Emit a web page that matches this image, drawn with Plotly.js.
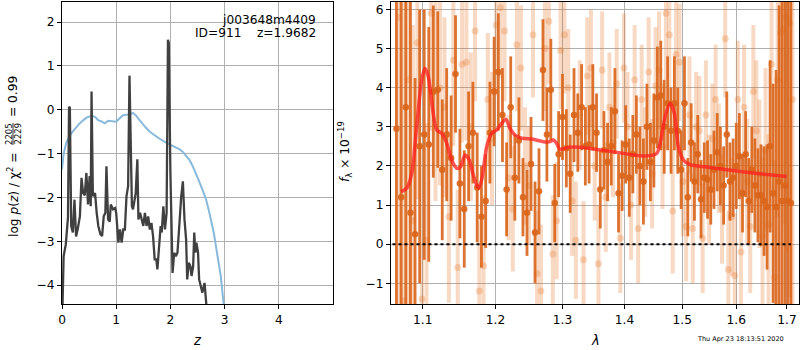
<!DOCTYPE html>
<html>
<head>
<meta charset="utf-8">
<script src="https://cdn.plot.ly/plotly-3.0.1.min.js"></script>
<style>html,body{margin:0;padding:0;background:#fff;}#chart{width:800px;height:350px;}</style>
</head>
<body>
<div id="chart"></div>
<script>
// ---- Left panel: log p(z) ----
const zPdf = [0, 0.03, 0.07, 0.11, 0.13, 0.145, 0.17, 0.20, 0.23, 0.26, 0.29, 0.33, 0.36, 0.39, 0.42, 0.45, 0.48, 0.51, 0.53, 0.545, 0.57, 0.61, 0.64, 0.67, 0.71, 0.74, 0.77, 0.80, 0.82, 0.85, 0.88, 0.90, 0.94, 0.98, 1.00, 1.02, 1.04, 1.07, 1.10, 1.13, 1.16, 1.19, 1.22, 1.245, 1.27, 1.29, 1.31, 1.34, 1.36, 1.39, 1.41, 1.44, 1.47, 1.50, 1.53, 1.56, 1.59, 1.62, 1.65, 1.68, 1.71, 1.74, 1.76, 1.79, 1.82, 1.84, 1.87, 1.90, 1.93, 1.955, 1.97, 2.00, 2.02, 2.04, 2.07, 2.10, 2.13, 2.15, 2.18, 2.20, 2.23, 2.26, 2.29, 2.31, 2.34, 2.37, 2.39, 2.42, 2.44, 2.46, 2.48, 2.51, 2.53, 2.56, 2.59, 2.63, 2.66, 2.70];
const logPdf = [-5.0, -3.34, -3.07, -2.46, 0.07, 0.05, -2.65, -2.8, -2.05, -2.89, -2.72, -2.43, -1.55, -1.9, -1.95, -1.44, -2.16, -1.51, -2.2, 0.42, -1.97, -1.9, -2.35, -2.65, -2.84, -2.88, -2.43, -2.35, -1.29, -2.5, -2.55, -2.16, -2.27, -2.24, -2.35, -2.73, -3.03, -2.73, -3.03, -2.73, -2.73, -1.97, -1.74, 0.78, -1.5, -2.2, -2.27, -2.05, -1.9, -1.13, -2.5, -2.35, -2.5, -2.65, -2.35, -2.65, -2.43, -2.73, -2.58, -2.88, -3.41, -3.41, -3.64, -3.19, -2.65, -2.8, -2.2, -2.73, -2.35, 1.6, 1.53, -1.44, -2.96, -3.72, -3.26, -3.34, -3.26, -2.8, -2.35, -1.97, -1.63, -2.5, -2.96, -3.87, -3.49, -3.57, -3.79, -3.57, -2.8, -3.26, -3.03, -3.26, -3.87, -4.02, -4.17, -3.95, -4.5, -5.0];
const zChi = [0, 0.03, 0.08, 0.14, 0.20, 0.26, 0.325, 0.39, 0.45, 0.51, 0.57, 0.62, 0.66, 0.72, 0.79, 0.85, 0.92, 1.00, 1.06, 1.12, 1.18, 1.24, 1.31, 1.36, 1.42, 1.48, 1.55, 1.62, 1.70, 1.80, 1.92, 2.05, 2.17, 2.23, 2.29, 2.35, 2.41, 2.47, 2.53, 2.60, 2.66, 2.71, 2.75, 2.80, 2.84, 2.89, 2.93, 2.98, 3.03];
const logChi = [-1.36, -1.0, -0.75, -0.6, -0.49, -0.39, -0.31, -0.24, -0.18, -0.15, -0.14, -0.17, -0.23, -0.26, -0.31, -0.25, -0.26, -0.27, -0.2, -0.13, -0.11, -0.11, -0.07, -0.12, -0.22, -0.32, -0.41, -0.5, -0.58, -0.66, -0.75, -0.83, -0.9, -0.96, -1.04, -1.14, -1.28, -1.44, -1.63, -1.85, -2.05, -2.3, -2.5, -2.8, -3.11, -3.45, -3.8, -4.4, -5.0];
const zTicks = [0, 1, 2, 3, 4];
const logTicks = [-4, -3, -2, -1, 0, 1, 2];

// ---- Right panel: spectrum ----
const lamDark = [1.066,1.072,1.078,1.084,1.090,1.096,1.102,1.108,1.114,1.120,1.126,1.132,1.138,1.144,1.150,1.156,1.162,1.168,1.174,1.180,1.186,1.192,1.198,1.204,1.210,1.216,1.222,1.228,1.234,1.240,1.246,1.252,1.258,1.264,1.270,1.276,1.282,1.288,1.294,1.300,1.306,1.312,1.318,1.324,1.330,1.336,1.342,1.348,1.354,1.360,1.366,1.372,1.378,1.384,1.390,1.396,1.402,1.408,1.414,1.420,1.426,1.432,1.438,1.444,1.450,1.456,1.462,1.468,1.474,1.480,1.486,1.492,1.498,1.504,1.510,1.516,1.522,1.528,1.534,1.540,1.546,1.552,1.558,1.564,1.570,1.576,1.582,1.588,1.594,1.600,1.606,1.612,1.618,1.624,1.630,1.636,1.642,1.648,1.654,1.660,1.666,1.672,1.678,1.684,1.690,1.696,1.702,1.708];
const fluxDark = [2.95,1.2,3.5,0.8,0.25,2.5,2.8,2.55,3.9,3.95,1.9,2.8,2.2,4.35,1.55,0.9,2.5,2.85,1.45,0.7,1.1,2.85,3.9,4.4,3.3,1.4,3.5,1.7,2.65,1.2,0.8,2.05,0.3,1.35,4.45,2.8,3.95,1.05,2.3,3.25,2.45,1.8,3.3,2.85,3.5,2.5,2.55,3.5,2.85,1.4,2.4,2.1,2.5,3.4,1.3,1.75,2.55,1.7,2.3,2.8,2.0,1.6,3.0,2.1,2.65,3.75,3.8,3.0,3.6,2.9,3.6,2.9,1.9,3.6,1.2,2.6,1.6,2.3,1.15,1.7,1.65,1.4,1.9,2.35,2.0,1.5,2.8,1.6,1.7,2.0,2.25,1.3,2.3,1.1,1.9,1.5,1.25,1.25,1.1,0.95,2.5,1.3,0.95,1.6,1.1,1.5,1.1,1.05];
const errDark = [9,8,7,6,4,3.5,3.2,3,2.2,2,1.8,1.7,1.6,1.5,1.4,1.5,1.4,1.3,1.4,1.3,1.2,1.3,1.4,1.5,1.2,1.2,1.3,1.1,1.1,1.0,1.1,1.2,1.3,1.1,1.3,1.2,1.3,1.0,1.1,1.1,1.0,1.0,1.2,1.0,1.1,1.0,1.0,1.1,1.0,1.0,1.0,1.0,1.0,1.1,1.0,0.9,1.0,1.0,1.0,1.0,1.0,1.1,1.1,1.0,1.2,1.3,1.4,1.2,1.2,1.1,1.2,1.1,1.0,1.2,1.0,1.0,1.0,1.0,1.0,0.9,1.0,0.9,1.0,1.0,1.0,1.0,1.1,1.0,1.0,1.1,1.1,1.0,1.1,1.1,1.1,1.2,1.2,1.3,1.4,1.6,2.2,2.8,3.5,4.5,6,7,8,9];
const lamLight = [1.069,1.075,1.081,1.087,1.093,1.099,1.105,1.111,1.117,1.123,1.129,1.135,1.141,1.147,1.153,1.159,1.165,1.171,1.177,1.183,1.189,1.195,1.201,1.207,1.213,1.219,1.225,1.231,1.237,1.243,1.249,1.255,1.261,1.267,1.273,1.279,1.285,1.291,1.297,1.303,1.309,1.315,1.321,1.327,1.333,1.339,1.345,1.351,1.357,1.363,1.369,1.375,1.381,1.387,1.393,1.399,1.405,1.411,1.417,1.423,1.429,1.435,1.441,1.447,1.453,1.459,1.465,1.471,1.477,1.483,1.489,1.495,1.501,1.507,1.513,1.519,1.525,1.531,1.537,1.543,1.549,1.555,1.561,1.567,1.573,1.579,1.585,1.591,1.597,1.603,1.609,1.615,1.621,1.627,1.633,1.639,1.645,1.651,1.657,1.663,1.669,1.675,1.681,1.687,1.693,1.699,1.705,1.711];
const fluxLight = [5.8,-1.45,4.2,0.6,5.15,-1.4,0.1,5.9,3.9,4.0,3.5,0.7,4.7,-0.6,4.6,4.65,3.0,5.45,-1.2,-0.55,3.7,2.7,5.6,6.05,5.45,1.7,0.9,5.1,4.5,2.0,1.5,5.35,-0.75,-1.2,5.0,5.7,-0.25,0.6,4.95,5.35,4.0,1.1,0.1,3.3,-0.4,4.3,4.5,2.0,-0.5,4.45,1.2,3.5,2.6,4.1,0.15,4.5,3.0,1.0,4.2,0.4,3.7,2.1,4.4,1.8,4.05,4.45,2.5,5.9,5.35,0.85,4.85,4.65,1.6,0.45,3.3,0.4,3.0,2.9,0.15,3.3,1.4,2.7,3.7,2.2,0.9,5.25,-0.65,0.7,-0.8,3.7,-0.2,3.5,1.6,0.45,3.9,2.9,1.8,0.2,2.4,0.5,4.6,-0.85,4.2,5.4,5.5,5.8,5.65,3.7];
const errLight = [9,8,6,5,4,4,3,3,2.8,2.5,2.3,2.2,2.2,2.0,2.0,2.0,1.9,1.8,1.8,1.8,1.7,1.7,1.8,1.8,1.8,1.6,1.6,1.7,1.6,1.5,1.5,1.6,1.6,1.7,1.6,1.6,1.5,1.5,1.5,1.5,1.5,1.4,1.5,1.4,1.5,1.5,1.5,1.4,1.5,1.5,1.4,1.4,1.4,1.4,1.4,1.4,1.4,1.4,1.4,1.4,1.4,1.4,1.4,1.4,1.5,1.5,1.6,1.7,1.7,1.6,1.6,1.5,1.4,1.4,1.5,1.4,1.4,1.4,1.4,1.4,1.4,1.4,1.4,1.4,1.4,1.5,1.5,1.5,1.6,1.5,1.6,1.6,1.6,1.7,1.7,1.8,1.9,2.0,2.1,2.3,2.6,3,3.5,4,5,6,7,8];
const lamModel = [1.0719,1.0792,1.0857,1.0921,1.0987,1.1030,1.1074,1.1133,1.1186,1.1253,1.1320,1.1388,1.1456,1.1511,1.1570,1.1630,1.1685,1.1755,1.1803,1.1874,1.1945,1.2017,1.2089,1.2151,1.2209,1.2282,1.2381,1.2554,1.2706,1.2807,1.2857,1.2908,1.2959,1.3115,1.3273,1.3597,1.3981,1.4262,1.4464,1.4551,1.4621,1.4696,1.4784,1.4860,1.4931,1.5021,1.5142,1.5447,1.5941,1.6460,1.6994];
const fluxModel = [1.34,1.43,1.81,3.0,4.2,4.49,4.28,3.43,2.92,2.83,2.58,2.15,1.94,1.98,2.28,2.15,1.77,1.43,1.64,2.49,2.83,2.92,3.09,3.19,2.96,2.79,2.71,2.68,2.62,2.62,2.66,2.58,2.43,2.48,2.48,2.41,2.32,2.26,2.27,2.32,2.66,3.26,3.6,3.34,2.49,2.15,2.03,1.97,1.88,1.80,1.73];
const lamTicks = [1.1, 1.2, 1.3, 1.4, 1.5, 1.6, 1.7];
const fluxTicks = [-1, 0, 1, 2, 3, 4, 5, 6];

const W = 800, H = 350;
const px = v => v / W, py = v => 1 - v / H;
const FONT = 'DejaVu Sans, sans-serif';
const FS = 12.2;
const ORANGE = 'rgb(217,100,25)';
const ORANGE_L = 'rgba(230,120,40,0.28)';

const traces = [
  {x: zChi, y: logChi, xaxis: 'x', yaxis: 'y', mode: 'lines', line: {color: 'rgb(135,185,220)', width: 2}, hoverinfo: 'skip'},
  {x: zPdf, y: logPdf, xaxis: 'x', yaxis: 'y', mode: 'lines', line: {color: '#404040', width: 2.3}, hoverinfo: 'skip'},
  {x: lamLight, y: fluxLight, xaxis: 'x2', yaxis: 'y2', mode: 'markers',
   marker: {color: ORANGE_L, size: 7},
   error_y: {type: 'data', array: errLight, visible: true, color: ORANGE_L, thickness: 4, width: 0}},
  {x: lamDark, y: fluxDark, xaxis: 'x2', yaxis: 'y2', mode: 'markers',
   marker: {color: ORANGE, size: 6.5, opacity: 0.9},
   error_y: {type: 'data', array: errDark, visible: true, color: 'rgba(217,100,25,0.9)', thickness: 2.8, width: 0}},
  {x: lamModel, y: fluxModel, xaxis: 'x2', yaxis: 'y2', mode: 'lines',
   line: {color: 'rgba(255,30,30,0.75)', width: 3.5, shape: 'spline', smoothing: 0.8}},
  {x: [lamDark[0] - 0.005, lamDark[lamDark.length - 1]], y: [0, 0], xaxis: 'x2', yaxis: 'y2', mode: 'lines',
   line: {color: 'black', width: 2, dash: 'dot'}}
];

const axBase = {
  showline: true, linecolor: 'black', linewidth: 1, mirror: true,
  ticks: 'outside', ticklen: 4, tickwidth: 1, tickcolor: 'black',
  showgrid: true, gridcolor: '#b0b0b0', gridwidth: 1, zeroline: false,
  tickfont: {family: FONT, size: FS, color: 'black'}
};

const layout = {
  width: W, height: H,
  margin: {l: 0, r: 0, t: 0, b: 0},
  paper_bgcolor: 'white', plot_bgcolor: 'white',
  showlegend: false,
  xaxis: Object.assign({}, axBase, {domain: [62 / W, 333 / W], range: [0, 5], tickvals: zTicks, anchor: 'y'}),
  yaxis: Object.assign({}, axBase, {domain: [46 / H, 348 / H], range: [-4.43, 2.46], tickvals: logTicks, anchor: 'x'}),
  xaxis2: Object.assign({}, axBase, {domain: [391 / W, 799 / W], type: 'log', range: [0.02494, 0.23668],
    tickvals: lamTicks, ticktext: lamTicks.map(v => v.toFixed(1)), anchor: 'y2'}),
  yaxis2: Object.assign({}, axBase, {domain: [46 / H, 348 / H], range: [-1.53, 6.19], tickvals: fluxTicks, anchor: 'x2'}),
  annotations: [
    {xref: 'paper', yref: 'paper', x: px(318), y: py(20), xanchor: 'right', yanchor: 'middle', showarrow: false,
     text: 'j003648m4409', font: {family: FONT, size: FS, color: 'black'}},
    {xref: 'paper', yref: 'paper', x: px(318), y: py(33), xanchor: 'right', yanchor: 'middle', showarrow: false,
     text: 'ID=911\u00a0\u00a0\u00a0\u00a0z=1.9682', font: {family: FONT, size: FS, color: 'black'}},
    {xref: 'paper', yref: 'paper', x: px(197), y: py(340), xanchor: 'center', yanchor: 'middle', showarrow: false,
     text: '<i>z</i>', font: {family: FONT, size: FS + 1, color: 'black'}},
    {xref: 'paper', yref: 'paper', x: px(595), y: py(340), xanchor: 'center', yanchor: 'middle', showarrow: false,
     text: '<i>λ</i>', font: {family: FONT, size: FS + 1, color: 'black'}},
    {xref: 'paper', yref: 'paper', x: px(13), y: py(195), xanchor: 'center', yanchor: 'middle', showarrow: false, textangle: -90,
     text: 'log <i>p</i>(<i>z</i>) / χ<sup>2</sup> =', font: {family: FONT, size: FS, color: 'black'}},
    {xref: 'paper', yref: 'paper', x: px(9), y: py(134), xanchor: 'center', yanchor: 'middle', showarrow: false, textangle: -90,
     text: '2205', font: {family: FONT, size: 8.5, color: 'black'}},
    {xref: 'paper', yref: 'paper', x: px(17.5), y: py(134), xanchor: 'center', yanchor: 'middle', showarrow: false, textangle: -90,
     text: '2229', font: {family: FONT, size: 8.5, color: 'black'}},
    {xref: 'paper', yref: 'paper', x: px(13), y: py(97), xanchor: 'center', yanchor: 'middle', showarrow: false, textangle: -90,
     text: '= 0.99', font: {family: FONT, size: FS, color: 'black'}},
    {xref: 'paper', yref: 'paper', x: px(345), y: py(152), xanchor: 'center', yanchor: 'middle', showarrow: false, textangle: -90,
     text: '<i>f</i><sub>λ</sub> × 10<sup>−19</sup>', font: {family: FONT, size: FS, color: 'black'}},
    {xref: 'paper', yref: 'paper', x: px(740), y: py(339), xanchor: 'center', yanchor: 'middle', showarrow: false,
     text: 'Thu Apr 23 18:13:51 2020', font: {family: FONT, size: 6.5, color: 'black'}}
  ],
  shapes: [
    {type: 'line', xref: 'paper', yref: 'paper', x0: px(13), x1: px(13), y0: py(123), y1: py(145), line: {color: 'black', width: 0.8}}
  ]
};

Plotly.newPlot('chart', traces, layout, {staticPlot: true, displayModeBar: false});
</script>
</body>
</html>
